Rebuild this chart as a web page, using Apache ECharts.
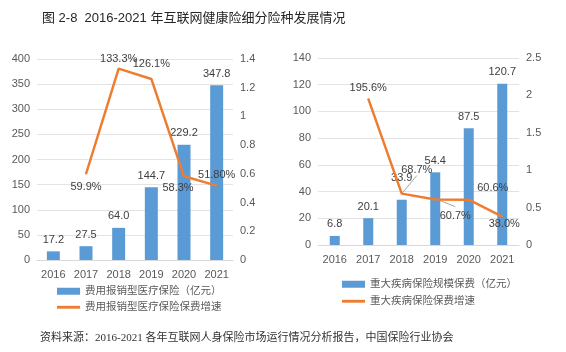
<!DOCTYPE html>
<html>
<head>
<meta charset="utf-8">
<script src="https://cdn.jsdelivr.net/npm/echarts@6/dist/echarts.min.js"></script>
<style>
  html, body { margin: 0; padding: 0; background: #fff; }
  #chart { width: 566px; height: 352px; }
</style>
</head>
<body>
<div id="chart"></div>
<script>
// 年份
const years = ['2016', '2017', '2018', '2019', '2020', '2021'];

// 费用报销型医疗保险
const medicalPremium = [17.2, 27.5, 64.0, 144.7, 229.2, 347.8];
const medicalGrowth = [null, 0.599, 1.333, 1.261, 0.583, 0.518];
const medicalGrowthText = ['', '59.9%', '133.3%', '126.1%', '58.3%', '51.80%'];

// 重大疾病保险
const criticalPremium = [6.8, 20.1, 33.9, 54.4, 87.5, 120.7];
const criticalGrowth = [null, 1.956, 0.687, 0.607, 0.606, 0.38];
const criticalGrowthText = ['', '195.6%', '68.7%', '60.7%', '60.6%', '38.0%'];

const BLUE = '#5B9BD5';
const ORANGE = '#ED7D31';
const TEXT = '#595959';
const SANS = '"Liberation Sans", "Noto Sans CJK SC", sans-serif';
const SERIF = '"Liberation Serif", "Noto Sans CJK SC", serif';

// 折线标签的位置（样式，不是数据）
const medicalLabelPos = [
  null,
  { position: 'bottom', offset: [0, 2] },
  { position: 'top', offset: [0, 1] },
  { position: 'top', offset: [0, -4] },
  { position: 'bottom', offset: [-6, 1] },
  { position: 'top', offset: [0, 0] },
];
const criticalLabelPos = [
  null,
  { position: 'top', offset: [0, 0] },
  { position: 'top', offset: [15, -13] },
  { position: 'bottom', offset: [20, 5] },
  { position: 'top', offset: [24, -1] },
  { position: 'bottom', offset: [2, -4] },
];
// 引导线（相对数据点的像素偏移）
const criticalLeaders = [
  { index: 2, pts: [[0, 0], [15, -18]] },
  { index: 3, pts: [[2, 0], [20, 7]] },
  { index: 4, pts: [[0, 0], [0, -15], [5, -15]] },
];

function lineData(values, texts, pos) {
  return values.map((v, i) => {
    if (v == null) return '-';
    const p = pos[i];
    return {
      value: v,
      label: { position: p.position, offset: p.offset, formatter: texts[i] },
    };
  });
}

function catAxis(gridIndex) {
  return {
    type: 'category',
    gridIndex,
    data: years,
    axisTick: { show: false },
    axisLine: { lineStyle: { color: '#D9D9D9' } },
    axisLabel: { color: TEXT, fontSize: 11, fontFamily: SANS, margin: 9 },
  };
}

function valAxis(gridIndex, max, interval, showSplit) {
  return {
    type: 'value',
    gridIndex,
    min: 0,
    max,
    interval,
    axisTick: { show: false },
    axisLine: { show: false },
    splitLine: { show: showSplit, lineStyle: { color: '#E3E3E3' } },
    axisLabel: { color: TEXT, fontSize: 11, fontFamily: SANS, margin: 7 },
  };
}

const barLabel = { show: true, position: 'top', color: '#404040', fontSize: 11, fontFamily: SANS, distance: 6 };
const lineLabel = { show: true, color: '#404040', fontSize: 11, fontFamily: SANS };

function legend(name, left, top, isBar) {
  return {
    data: [{ name, icon: isBar ? 'rect' : 'path://M0,0 L24,0 L24,3 L0,3 Z' }],
    left,
    top,
    itemWidth: 23,
    itemHeight: isBar ? 7 : 3,
    itemGap: 6,
    textStyle: { color: TEXT, fontSize: 10.5, fontFamily: SERIF },
  };
}

const chart = echarts.init(document.getElementById('chart'));
chart.setOption({
  animation: false,
  backgroundColor: '#fff',
  title: [
    {
      text: '图 2-8  2016-2021 年互联网健康险细分险种发展情况',
      left: 37,
      top: 7,
      textStyle: { color: '#262626', fontSize: 13, fontWeight: 'normal', fontFamily: SANS },
    },
    {
      text: '资料来源：2016-2021 各年互联网人身保险市场运行情况分析报告，中国保险行业协会',
      left: 35,
      top: 328,
      textStyle: { color: '#333', fontSize: 11, fontWeight: 'normal', fontFamily: SERIF },
    },
  ],
  legend: [
    legend('费用报销型医疗保险（亿元）', 52, 281, true),
    legend('费用报销型医疗保险保费增速', 52, 297, false),
    legend('重大疾病保险规模保费（亿元）', 337, 274, true),
    legend('重大疾病保险保费增速', 337, 291, false),
  ],
  grid: [
    { left: 37, top: 59, width: 196, height: 201 },
    { left: 318, top: 58, width: 201, height: 187 },
  ],
  xAxis: [catAxis(0), catAxis(1)],
  yAxis: [
    valAxis(0, 400, 50, true),
    valAxis(0, 1.4, 0.2, false),
    valAxis(1, 140, 20, true),
    valAxis(1, 2.5, 0.5, false),
  ],
  series: [
    {
      name: '费用报销型医疗保险（亿元）',
      type: 'bar',
      xAxisIndex: 0,
      yAxisIndex: 0,
      data: medicalPremium,
      barWidth: 13,
      itemStyle: { color: BLUE },
      label: { ...barLabel, formatter: (p) => p.value.toFixed(1) },
    },
    {
      name: '费用报销型医疗保险保费增速',
      type: 'line',
      xAxisIndex: 0,
      yAxisIndex: 1,
      data: lineData(medicalGrowth, medicalGrowthText, medicalLabelPos),
      symbol: 'circle',
      symbolSize: 1,
      itemStyle: { color: ORANGE },
      lineStyle: { color: ORANGE, width: 2.5 },
      label: lineLabel,
      z: 3,
    },
    {
      name: '重大疾病保险规模保费（亿元）',
      type: 'bar',
      xAxisIndex: 1,
      yAxisIndex: 2,
      data: criticalPremium.map((v, i) => (i === 2 ? { value: v, label: { offset: [0, -10] } } : v)),
      barWidth: 10,
      itemStyle: { color: BLUE },
      label: { ...barLabel, formatter: (p) => p.value.toFixed(1) },
    },
    {
      name: '重大疾病保险保费增速',
      type: 'line',
      xAxisIndex: 1,
      yAxisIndex: 3,
      data: lineData(criticalGrowth, criticalGrowthText, criticalLabelPos),
      symbol: 'circle',
      symbolSize: 1,
      itemStyle: { color: ORANGE },
      lineStyle: { color: ORANGE, width: 2.5 },
      label: lineLabel,
      z: 3,
    },
  ],
});

// 标签引导线，从数据点换算像素位置
chart.setOption({
  graphic: criticalLeaders.map((l) => {
    const [px, py] = chart.convertToPixel({ xAxisIndex: 1, yAxisIndex: 3 }, [l.index, criticalGrowth[l.index]]);
    return {
      type: 'polyline',
      z: 2,
      shape: { points: l.pts.map(([dx, dy]) => [px + dx, py + dy]) },
      style: { stroke: '#A6A6A6', lineWidth: 1, fill: null },
    };
  }),
});
</script>
</body>
</html>
